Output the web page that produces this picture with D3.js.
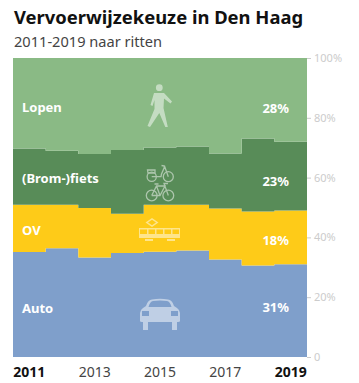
<!DOCTYPE html>
<html>
<head>
<meta charset="utf-8">
<script src="https://d3js.org/d3.v7.min.js"></script>
<style>
html, body { margin: 0; padding: 0; background: #fff; }
svg { display: block; }
text { font-family: "Noto Sans", sans-serif; }
</style>
</head>
<body>
<div id="chart"></div>
<script>
const years = [2011, 2012, 2013, 2014, 2015, 2016, 2017, 2018, 2019]
const modes = ["Auto", "OV", "(Brom-)fiets", "Lopen"]
const auto = [35.1, 36.4, 33.3, 34.8, 35.2, 35.6, 32.6, 30.6, 31]
const ov = [15.8, 14.5, 16.5, 13.1, 15.7, 15.3, 17.1, 18.1, 18]
const fiets = [18.8, 18.1, 18.1, 21.3, 19.2, 19.5, 18.4, 24.4, 23]
const lopen = [30.3, 31, 32.1, 30.8, 29.9, 29.6, 31.9, 26.9, 28]
const endLabels = ["31%", "18%", "23%", "28%"]
const yearLabels = [2011, 2013, 2015, 2017, 2019]
const yTicks = [0, 20, 40, 60, 80, 100]
const colors = ["#7f9fcb", "#fecb18", "#588c58", "#8aba85"]

const width = 359, height = 383
const plotLeft = 13, plotRight = 307, plotTop = 58, plotBottom = 357

const svg = d3.select("#chart").append("svg")
    .attr("width", width)
    .attr("height", height)

svg.append("text").attr("x", 14).attr("y", 24)
    .attr("font-size", 18.4).attr("font-weight", 700).attr("fill", "#111")
    .text("Vervoerwijzekeuze in Den Haag")
svg.append("text").attr("x", 14).attr("y", 46.5)
    .attr("font-size", 14.6).attr("fill", "#444")
    .text("2011-2019 naar ritten")

// one row per year, last row repeated so the final step reaches the edge
const rows = years.map((y, i) => ({ year: y, Auto: auto[i], OV: ov[i], "(Brom-)fiets": fiets[i], Lopen: lopen[i] }))
rows.push({ ...rows[rows.length - 1], year: years[years.length - 1] + 1 })

const x = d3.scaleLinear().domain([years[0], years[years.length - 1] + 1]).range([plotLeft, plotRight])
const xBand = d3.scaleBand().domain(years).range([plotLeft, plotRight])
const y = d3.scaleLinear().domain([0, 100]).range([plotBottom, plotTop])

const layers = d3.stack().keys(modes)(rows)
const area = d3.area()
    .curve(d3.curveStepAfter)
    .x(d => x(d.data.year))
    .y0(d => y(d[0]))
    .y1(d => y(d[1]))

svg.append("g").selectAll("path")
    .data(layers)
    .join("path")
    .attr("fill", (d, i) => colors[i])
    .attr("d", area)

// y axis
const yAxis = svg.append("g")
    .attr("transform", "translate(" + plotRight + ",0)")
    .call(d3.axisRight(y).tickValues(yTicks).tickSize(4).tickPadding(3).tickFormat(d => d == 0 ? "0" : d + "%"))
yAxis.select(".domain").remove()
yAxis.selectAll("line").attr("stroke", "#ccc")
yAxis.selectAll("text").attr("fill", "#ccc").attr("font-size", 11)
    .style("font-family", '"Noto Sans", sans-serif')

// x axis
const xAxis = svg.append("g")
    .attr("transform", "translate(0," + plotBottom + ")")
    .call(d3.axisBottom(xBand).tickValues(yearLabels).tickSize(0).tickPadding(10))
xAxis.select(".domain").remove()
xAxis.selectAll("text")
    .attr("fill", d => (d == 2011 || d == 2019) ? "#111" : "#444")
    .attr("font-size", 14)
    .attr("font-weight", d => (d == 2011 || d == 2019) ? 700 : 400)
    .style("font-family", '"Noto Sans", sans-serif')

// mode names on the left, last value on the right
const labelY = [313, 235, 182.5, 111.5]
const valueY = [311.5, 245, 186, 113]
modes.forEach((m, i) => {
    svg.append("text").attr("x", 22).attr("y", labelY[i])
        .attr("font-size", 13).attr("font-weight", 700).attr("fill", "#fff").text(m)
    svg.append("text").attr("x", 289).attr("y", valueY[i]).attr("text-anchor", "end")
        .attr("font-size", 13).attr("font-weight", 700).attr("fill", "#fff").text(endLabels[i])
})

// icons
const icons = svg.append("g").attr("fill", "#fff").attr("stroke", "none").attr("opacity", 0.5)

// walker
const walker = icons.append("g").attr("transform", "translate(159,84)")
walker.append("circle").attr("cx", 0.3).attr("cy", 3.7).attr("r", 3.4)
walker.append("path").attr("d", "M-5,9 L5,9 L13,17.5 L11.5,19.5 L5,14.5 L4.5,24 L8.8,43 L6.3,43 L0.3,29 L-9,43 L-11.5,42 L-4.5,25 L-4.5,16 L-6.5,22 L-8.5,21 Z")

// moped and bicycle
const bikes = icons.append("g").attr("fill", "none").attr("stroke", "#fff").attr("stroke-width", 1.3)
const wheels = [[151.7, 176.7, 4.6], [168.3, 176.7, 5], [151.7, 195.5, 5.4], [168.3, 195.5, 5.4]]
bikes.selectAll("circle").data(wheels).join("circle")
    .attr("cx", d => d[0]).attr("cy", d => d[1]).attr("r", d => d[2])
bikes.append("path").attr("d", "M151.7,176.7 L161,176.7 C161,172 164,171 164.5,166 L161.5,165.5 M164.5,166 L168.3,176.7 M147.5,170 L155,170 L155,173 L148,173 Z")
bikes.append("path").attr("d", "M151.7,195.5 L156.5,186 L165,186 L160,195.5 L151.7,195.5 M154.5,184 L158.5,184 M156.5,186 L160,195.5 M168.3,195.5 L164,183.5 L168,183.5")

// tram
const tram = icons.append("g")
tram.append("path").attr("d", "M139,228 L180,228 L180,238 L139,238 Z M140,229.5 L140,234 L147,234 L147,229.5 Z M148.5,229.5 L148.5,234 L155,234 L155,229.5 Z M156.5,229.5 L156.5,234 L163,234 L163,229.5 Z M164.5,229.5 L164.5,234 L171,234 L171,229.5 Z M172.5,229.5 L172.5,234 L179,234 L179,229.5 Z").attr("fill-rule", "evenodd")
tram.append("path").attr("d", "M145.5,222.5 L152,218 L158.5,222.5 L152,227 Z M148,222.5 L152,225.2 L156,222.5 L152,219.8 Z").attr("fill-rule", "evenodd")
tram.append("path").attr("d", "M145,239 h8 v2 h-8 Z M167,239 h8 v2 h-8 Z")

// car
const car = icons.append("g")
car.append("path").attr("d", "M146,306 Q148,299.5 152,299.5 Q160,298 168,299.5 Q172,299.5 174,306 L177,308 Q180,310 180,313 L180,321 Q180,322 178,322 L177,322 L177,330 L172,330 L172,322 L148,322 L148,330 L143,330 L143,322 L142,322 Q140,322 140,321 L140,313 Q140,310 143,308 Z M148.5,307 L171.5,307 Q170,301.5 167,301 Q160,300 153,301 Q150,301.5 148.5,307 Z M142,311 L142,316 L149,316 L149,311 Z M171,311 L171,316 L178,316 L178,311 Z").attr("fill-rule", "evenodd")
</script>
</body>
</html>
